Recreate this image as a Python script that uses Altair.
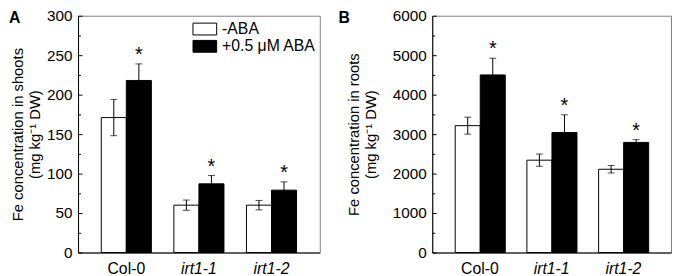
import altair as alt
import pandas as pd

FONT = "Liberation Sans"

genotypes = ["Col-0", "irt1-1", "irt1-2"]
treatments = ["-ABA", "+0.5 μM ABA"]

# Panel A: Fe in shoots (mg/kg DW)
shoot_ctrl = [171, 60, 60]
shoot_ctrl_err = [23, 6.5, 6]
shoot_aba = [218, 87, 79]
shoot_aba_err = [21, 10.5, 10.5]

# Panel B: Fe in roots (mg/kg DW)
root_ctrl = [3215, 2340, 2110]
root_ctrl_err = [215, 155, 95]
root_aba = [4500, 3040, 2790]
root_aba_err = [425, 450, 70]


def make_df(ctrl, ctrl_err, aba, aba_err):
    rows = []
    for i, g in enumerate(genotypes):
        rows.append(dict(genotype=g, treatment=treatments[0], value=ctrl[i], err=ctrl_err[i], star=""))
        rows.append(dict(genotype=g, treatment=treatments[1], value=aba[i], err=aba_err[i], star="*"))
    df = pd.DataFrame(rows)
    df["low"] = df["value"] - df["err"]
    df["high"] = df["value"] + df["err"]
    return df


def panel(df, ymax, ystep, title_lines, letter, width, height, title_pad, letter_x, show_legend):
    minor = ystep / 2
    tick_vals = [i * minor for i in range(int(round(ymax / minor)) + 1)]
    label_vals = [i * ystep for i in range(int(round(ymax / ystep)) + 1)]
    yscale = alt.Scale(domain=[0, ymax], nice=False)
    xscale = alt.Scale(domain=genotypes, paddingInner=0.31, paddingOuter=0.32)
    offscale = alt.Scale(domain=treatments, paddingInner=0, paddingOuter=0)

    x_axis = alt.X(
        "genotype:N", scale=xscale, title=None,
        axis=alt.Axis(
            labelFontSize=16, labelFont=FONT, labelColor="black", labelAngle=0,
            ticks=False, tickSize=0, domainColor="black", domainWidth=1,
            labelPadding=8, grid=False,
            labelFontStyle=alt.expr("datum.value == 'Col-0' ? 'normal' : 'italic'"),
        ),
    )
    xo = alt.XOffset("treatment:N", scale=offscale)

    if show_legend:
        legend = alt.Legend(
            orient="none", legendX=120.5, legendY=5.5, title=None,
            symbolType="M-2,-1H2V1H-2Z", symbolSize=144,
            symbolStrokeColor="black", symbolStrokeWidth=1,
            labelFontSize=16, labelFont=FONT, labelColor="black",
            labelOffset=9.5, rowPadding=1.5, padding=0,
        )
    else:
        legend = None

    color = alt.Color(
        "treatment:N",
        scale=alt.Scale(domain=treatments, range=["white", "black"]),
        legend=legend,
    )

    bars = alt.Chart(df).mark_bar(stroke="black", strokeWidth=1, opacity=1).encode(
        x=x_axis, xOffset=xo,
        y=alt.Y(
            "value:Q", scale=yscale, title=title_lines,
            axis=alt.Axis(
                orient="left", values=label_vals, format="d", ticks=False, tickSize=0, grid=False,
                labelFontSize=15.5, labelFont=FONT, labelColor="black", labelPadding=6,
                domainColor="black", domainWidth=1,
                titleFont=FONT, titleFontSize=15, titleFontWeight="normal", titleColor="black",
                titlePadding=title_pad, titleLineHeight=17,
            ),
        ),
        color=color,
    )

    errs = alt.Chart(df).mark_rule(color="black", strokeWidth=1).encode(
        x=x_axis, xOffset=xo,
        y=alt.Y(
            "low:Q", scale=yscale, title=None,
            axis=alt.Axis(
                orient="right", offset=-width, values=tick_vals, labels=False,
                domain=False, grid=False, ticks=True, tickColor="black", tickWidth=1,
                tickSize={"condition": {"test": f"datum.value % {ystep} === 0", "value": 4}, "value": 2.5},
            ),
        ),
        y2="high:Q",
    )

    caps_hi = alt.Chart(df).mark_tick(color="black", size=7, thickness=1, orient="horizontal").encode(
        x=x_axis, xOffset=xo, y=alt.Y("high:Q", scale=yscale, axis=None)
    )
    caps_lo = alt.Chart(df).mark_tick(color="black", size=7, thickness=1, orient="horizontal").encode(
        x=x_axis, xOffset=xo, y=alt.Y("low:Q", scale=yscale, axis=None)
    )
    stars = alt.Chart(df).transform_filter("datum.star != ''").mark_text(
        fontSize=20, font=FONT, baseline="alphabetic", dy=-3, color="black"
    ).encode(
        x=x_axis, xOffset=xo, y=alt.Y("high:Q", scale=yscale, axis=None), text="star:N"
    )
    letter_chart = alt.Chart(pd.DataFrame({"t": [letter]})).mark_text(
        align="left", baseline="top", fontSize=16, fontWeight="bold", font=FONT, color="black"
    ).encode(text="t:N", x=alt.value(letter_x), y=alt.value(-6))

    return (
        alt.layer(bars, errs, caps_hi, caps_lo, stars, letter_chart)
        .resolve_axis(y="independent")
        .properties(width=width, height=height)
    )


dfA = make_df(shoot_ctrl, shoot_ctrl_err, shoot_aba, shoot_aba_err)
dfB = make_df(root_ctrl, root_ctrl_err, root_aba, root_aba_err)

A = panel(dfA, 300, 50, ["Fe concentration in shoots", "(mg kg⁻¹ DW)"], "A", 245, 240, 4, -70, True)
B = panel(dfB, 6000, 1000, ["Fe concentration in roots", "(mg kg⁻¹ DW)"], "B", 242, 240, 14, -95, False)

chart = (
    alt.hconcat(A, B, spacing=17)
    .resolve_scale(color="independent")
    .properties(padding={"left": 0, "top": -2, "right": 0, "bottom": 0})
    .configure(font=FONT)
    .configure_view(stroke="#808080", strokeWidth=1)
)

chart.save("out.html", embed_options={"renderer": "svg", "actions": False})
